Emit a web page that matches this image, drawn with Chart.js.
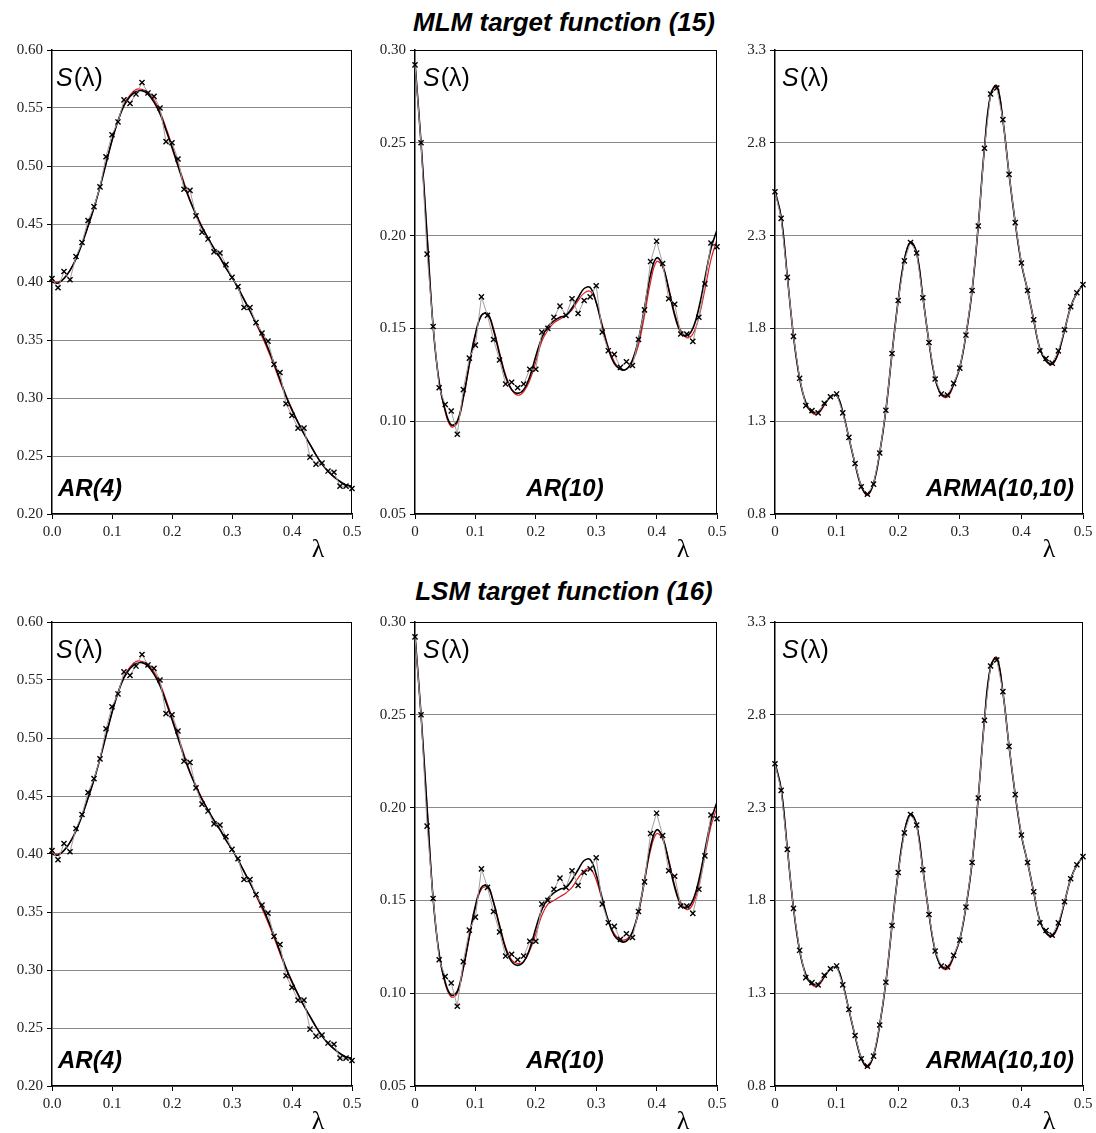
<!DOCTYPE html>
<html>
<head>
<meta charset="utf-8">
<script src="https://cdn.jsdelivr.net/npm/chart.js@4.4.1/dist/chart.umd.min.js"></script>
<style>
  html, body { margin: 0; padding: 0; background: #fff; }
  #page { position: relative; width: 1096px; height: 1133px; overflow: hidden; }
  .title { position: absolute; left: 16px; width: 1096px; text-align: center;
           font: italic bold 26px 'Liberation Sans', sans-serif; color: #000; line-height: 30px; }
  canvas { position: absolute; }
</style>
</head>
<body>
<div id="page">
  <div class="title" style="top:7px">MLM target function (15)</div>
  <div class="title" style="top:576px">LSM target function (16)</div>
</div>
<script>
// Frequency grid λ
const LAMBDA = [0,0.01,0.02,0.03,0.04,0.05,0.06,0.07,0.08,0.09,
  0.1,0.11,0.12,0.13,0.14,0.15,0.16,0.17,0.18,0.19,
  0.2,0.21,0.22,0.23,0.24,0.25,0.26,0.27,0.28,0.29,
  0.3,0.31,0.32,0.33,0.34,0.35,0.36,0.37,0.38,0.39,
  0.4,0.41,0.42,0.43,0.44,0.45,0.46,0.47,0.48,0.49,0.5];

// ---- AR(4) ----
const AR4_SAMPLE = [0.403,0.395,0.409,0.402,0.422,0.434,0.453,0.465,0.482,0.508,
  0.527,0.538,0.557,0.554,0.562,0.572,0.563,0.560,0.550,0.521,
  0.520,0.506,0.480,0.479,0.457,0.443,0.437,0.426,0.425,0.415,
  0.404,0.396,0.378,0.378,0.365,0.356,0.349,0.329,0.322,0.295,
  0.285,0.274,0.274,0.249,0.243,0.244,0.237,0.236,0.224,0.224,0.222];
const AR4_TRUE = [0.401,0.400,0.403,0.410,0.420,0.433,0.448,0.464,0.482,0.502,
  0.522,0.539,0.553,0.561,0.566,0.566,0.564,0.557,0.547,0.533,
  0.518,0.502,0.486,0.471,0.459,0.448,0.438,0.429,0.421,0.412,
  0.404,0.395,0.385,0.375,0.364,0.353,0.341,0.328,0.314,0.301,
  0.289,0.279,0.269,0.260,0.251,0.243,0.237,0.232,0.228,0.225,0.224];
const AR4_MLM = [0.400,0.399,0.403,0.410,0.420,0.433,0.448,0.464,0.482,0.502,
  0.522,0.539,0.552,0.560,0.564,0.565,0.562,0.555,0.545,0.531,
  0.516,0.500,0.484,0.470,0.458,0.447,0.438,0.429,0.421,0.412,
  0.404,0.395,0.385,0.375,0.365,0.355,0.343,0.330,0.316,0.302,
  0.290,0.279,0.269,0.260,0.251,0.243,0.237,0.232,0.228,0.225,0.224];
const AR4_LSM = [0.400,0.399,0.403,0.410,0.420,0.433,0.448,0.464,0.482,0.502,
  0.522,0.539,0.552,0.560,0.564,0.565,0.562,0.555,0.545,0.531,
  0.516,0.500,0.484,0.470,0.458,0.447,0.438,0.429,0.421,0.412,
  0.404,0.395,0.385,0.375,0.365,0.355,0.343,0.330,0.316,0.302,
  0.290,0.279,0.269,0.260,0.251,0.243,0.237,0.232,0.228,0.225,0.224];

// ---- AR(10) ----
const AR10_SAMPLE = [0.292,0.250,0.190,0.151,0.118,0.109,0.1055,0.093,0.117,0.134,
  0.141,0.167,0.157,0.144,0.133,0.120,0.121,0.118,0.120,0.128,
  0.128,0.148,0.150,0.156,0.162,0.157,0.166,0.158,0.165,0.167,
  0.173,0.148,0.138,0.136,0.129,0.132,0.130,0.144,0.160,0.186,
  0.197,0.185,0.166,0.163,0.147,0.147,0.143,0.156,0.174,0.196,0.194];
const AR10_TRUE = [0.293,0.250,0.200,0.151,0.121,0.105,0.097,0.099,0.112,0.130,
  0.146,0.157,0.158,0.150,0.137,0.125,0.117,0.114,0.116,0.122,
  0.132,0.143,0.149,0.153,0.155,0.157,0.160,0.165,0.169,0.170,
  0.164,0.152,0.140,0.132,0.128,0.128,0.132,0.141,0.157,0.175,
  0.186,0.183,0.172,0.158,0.149,0.145,0.147,0.156,0.171,0.187,0.198];
const AR10_MLM = [0.293,0.250,0.200,0.151,0.121,0.106,0.098,0.100,0.113,0.131,
  0.147,0.157,0.158,0.149,0.136,0.124,0.117,0.115,0.117,0.124,
  0.135,0.145,0.151,0.154,0.156,0.157,0.161,0.1665,0.1715,0.172,
  0.164,0.151,0.139,0.131,0.128,0.128,0.133,0.144,0.161,0.179,
  0.188,0.184,0.171,0.157,0.148,0.146,0.150,0.161,0.177,0.193,0.203];
const AR10_LSM_RED = [0.293,0.250,0.200,0.151,0.121,0.105,0.098,0.100,0.113,0.130,
  0.146,0.156,0.157,0.149,0.137,0.125,0.118,0.116,0.117,0.123,
  0.132,0.142,0.148,0.150,0.152,0.154,0.157,0.162,0.166,0.167,
  0.161,0.150,0.139,0.132,0.129,0.129,0.133,0.143,0.160,0.177,
  0.186,0.183,0.172,0.158,0.149,0.145,0.148,0.158,0.174,0.190,0.200];
const AR10_LSM = [0.293,0.250,0.200,0.151,0.121,0.106,0.099,0.101,0.114,0.131,
  0.147,0.157,0.158,0.149,0.136,0.124,0.117,0.115,0.117,0.124,
  0.135,0.145,0.151,0.154,0.156,0.157,0.161,0.1665,0.1715,0.172,
  0.164,0.151,0.139,0.131,0.128,0.128,0.133,0.144,0.161,0.179,
  0.188,0.184,0.171,0.157,0.148,0.146,0.150,0.161,0.177,0.193,0.203];

// ---- ARMA(10,10) ----
const ARMA_SAMPLE = [2.536,2.393,2.075,1.757,1.531,1.384,1.357,1.345,1.397,1.432,
  1.447,1.345,1.213,1.072,0.947,0.907,0.961,1.129,1.359,1.665,
  1.950,2.164,2.263,2.206,1.965,1.724,1.527,1.447,1.441,1.504,
  1.586,1.764,2.004,2.352,2.771,3.063,3.095,2.925,2.630,2.370,
  2.152,2.004,1.847,1.679,1.638,1.613,1.679,1.793,1.917,1.992,2.036];
const ARMA_TRUE = [2.54,2.40,2.08,1.76,1.53,1.40,1.345,1.34,1.385,1.43,
  1.44,1.35,1.21,1.07,0.95,0.90,0.965,1.13,1.36,1.665,
  1.95,2.17,2.265,2.205,1.97,1.725,1.53,1.44,1.43,1.495,
  1.59,1.765,2.005,2.355,2.77,3.06,3.11,2.92,2.63,2.37,
  2.15,2.005,1.845,1.69,1.625,1.605,1.665,1.79,1.915,1.99,2.035];
const ARMA_MLM = [2.54,2.40,2.08,1.76,1.53,1.40,1.35,1.35,1.39,1.43,
  1.44,1.35,1.21,1.07,0.95,0.905,0.965,1.13,1.36,1.665,
  1.95,2.17,2.265,2.205,1.97,1.725,1.53,1.445,1.44,1.50,
  1.59,1.765,2.005,2.355,2.77,3.06,3.105,2.92,2.63,2.37,
  2.15,2.005,1.845,1.69,1.625,1.61,1.67,1.79,1.915,1.99,2.035];
const ARMA_LSM = [2.54,2.40,2.08,1.76,1.53,1.40,1.35,1.35,1.39,1.43,
  1.44,1.35,1.21,1.07,0.95,0.905,0.965,1.13,1.36,1.665,
  1.95,2.17,2.265,2.205,1.97,1.725,1.53,1.445,1.44,1.50,
  1.59,1.765,2.005,2.355,2.77,3.06,3.105,2.92,2.63,2.37,
  2.15,2.005,1.845,1.69,1.625,1.61,1.67,1.79,1.915,1.99,2.035];

// Axis ticks and labels
const X_TICKS = [0, 0.1, 0.2, 0.3, 0.4, 0.5];
const X_LABELS_AR4 = ['0.0','0.1','0.2','0.3','0.4','0.5'];
const X_LABELS = ['0','0.1','0.2','0.3','0.4','0.5'];
const Y_TICKS_AR4 = [0.20,0.25,0.30,0.35,0.40,0.45,0.50,0.55,0.60];
const Y_LABELS_AR4 = ['0.20','0.25','0.30','0.35','0.40','0.45','0.50','0.55','0.60'];
const Y_TICKS_AR10 = [0.05,0.10,0.15,0.20,0.25,0.30];
const Y_LABELS_AR10 = ['0.05','0.10','0.15','0.20','0.25','0.30'];
const Y_TICKS_ARMA = [0.8,1.3,1.8,2.3,2.8,3.3];
const Y_LABELS_ARMA = ['0.8','1.3','1.8','2.3','2.8','3.3'];

const MODEL_NAMES = ['AR(4)', 'AR(10)', 'ARMA(10,10)'];

const pts = (ys) => LAMBDA.map((x, i) => ({ x: x, y: ys[i] }));

// panel placement (plot area, in page pixels)
const PANELS = [
  { L: 52,  T: 49,  W: 300, H: 465, yT: Y_TICKS_AR4,  yL: Y_LABELS_AR4,  xL: X_LABELS_AR4, s: AR4_SAMPLE,  red: AR4_TRUE,  black: AR4_MLM,  name: MODEL_NAMES[0], pos: 'left' },
  { L: 415, T: 49,  W: 302, H: 465, yT: Y_TICKS_AR10, yL: Y_LABELS_AR10, xL: X_LABELS,     s: AR10_SAMPLE, red: AR10_TRUE, black: AR10_MLM, name: MODEL_NAMES[1], pos: 'center' },
  { L: 775, T: 49,  W: 308, H: 465, yT: Y_TICKS_ARMA, yL: Y_LABELS_ARMA, xL: X_LABELS,     s: ARMA_SAMPLE, red: ARMA_TRUE, black: ARMA_MLM, name: MODEL_NAMES[2], pos: 'right' },
  { L: 52,  T: 621, W: 300, H: 465, yT: Y_TICKS_AR4,  yL: Y_LABELS_AR4,  xL: X_LABELS_AR4, s: AR4_SAMPLE,  red: AR4_TRUE,  black: AR4_LSM,  name: MODEL_NAMES[0], pos: 'left' },
  { L: 415, T: 621, W: 302, H: 465, yT: Y_TICKS_AR10, yL: Y_LABELS_AR10, xL: X_LABELS,     s: AR10_SAMPLE, red: AR10_LSM_RED, black: AR10_LSM, name: MODEL_NAMES[1], pos: 'center' },
  { L: 775, T: 621, W: 308, H: 465, yT: Y_TICKS_ARMA, yL: Y_LABELS_ARMA, xL: X_LABELS,     s: ARMA_SAMPLE, red: ARMA_TRUE, black: ARMA_LSM, name: MODEL_NAMES[2], pos: 'right' }
];

const Y_AXIS_W = 52, X_AXIS_H = 52, PAD_T = 12, PAD_R = 16;

const decor = {
  id: 'decor',
  afterDatasetsDraw(chart, args, o) {
    const ctx = chart.ctx, a = chart.chartArea;
    ctx.save();
    // frame: top and right edges
    ctx.strokeStyle = '#000';
    ctx.lineWidth = 1;
    ctx.beginPath();
    ctx.moveTo(a.left, Math.round(a.top) + 0.5);
    ctx.lineTo(a.right, Math.round(a.top) + 0.5);
    ctx.moveTo(Math.round(a.right) - 0.5, a.top);
    ctx.lineTo(Math.round(a.right) - 0.5, a.bottom);
    ctx.stroke();

    // S(λ)
    ctx.fillStyle = '#000';
    ctx.textBaseline = 'middle';
    ctx.textAlign = 'left';
    const sx = a.left + o.sdx, sy = a.top + 29;
    ctx.font = 'italic 25px "Liberation Sans", sans-serif';
    ctx.fillText('S', sx, sy);
    const w = ctx.measureText('S').width;
    ctx.font = '25px "Liberation Sans", sans-serif';
    ctx.fillText('(λ)', sx + w + 1, sy);

    // model name
    ctx.font = 'italic bold 24px "Liberation Sans", sans-serif';
    const my = a.bottom - 25;
    if (o.pos === 'left') { ctx.textAlign = 'left'; ctx.fillText(o.name, a.left + 6, my); }
    else if (o.pos === 'center') { ctx.textAlign = 'center'; ctx.fillText(o.name, a.left + 150, my); }
    else { ctx.textAlign = 'right'; ctx.fillText(o.name, a.right - 9, my); }

    // λ axis symbol
    ctx.font = '26px "Liberation Serif", serif';
    ctx.textAlign = 'center';
    ctx.fillText('λ', a.right - 34, a.bottom + 36);
    ctx.restore();
  }
};

const page = document.getElementById('page');
PANELS.forEach((p, k) => {
  const c = document.createElement('canvas');
  const cw = p.W + Y_AXIS_W + PAD_R, ch = p.H + PAD_T + X_AXIS_H;
  c.width = cw; c.height = ch;
  c.style.left = (p.L - Y_AXIS_W) + 'px';
  c.style.top = (p.T - PAD_T) + 'px';
  c.style.width = cw + 'px'; c.style.height = ch + 'px';
  page.appendChild(c);

  const yMin = p.yT[0], yMax = p.yT[p.yT.length - 1];
  new Chart(c, {
    type: 'line',
    data: {
      datasets: [
        { data: pts(p.s), borderColor: '#a0a0a0', borderWidth: 1, tension: 0,
          pointStyle: 'crossRot', pointRadius: 3.6, pointBorderColor: '#000',
          pointBorderWidth: 1.4, pointHoverRadius: 3.6, clip: false, order: 0 },
        { data: pts(p.black), borderColor: '#000', borderWidth: 1.6, tension: 0.4,
          pointRadius: 0, order: 1 },
        { data: pts(p.red), borderColor: '#e8191c', borderWidth: 1.2, tension: 0.4,
          pointRadius: 0, order: 2 }
      ]
    },
    options: {
      responsive: false, animation: false, devicePixelRatio: 1,
      layout: { padding: { top: PAD_T, right: PAD_R, left: 0, bottom: 0 } },
      plugins: { legend: { display: false }, tooltip: { enabled: false },
                 decor: { sdx: [4, 8, 7][k % 3], pos: p.pos, name: p.name } },
      scales: {
        x: {
          type: 'linear', min: 0, max: 0.5,
          afterBuildTicks: (s) => { s.ticks = X_TICKS.map(v => ({ value: v })); },
          afterFit: (s) => { s.height = X_AXIS_H; },
          ticks: { autoSkip: false, maxRotation: 0, padding: 4, color: '#222',
                   font: { family: 'Liberation Serif', size: 15 },
                   callback: (v, i) => p.xL[i] },
          grid: { drawOnChartArea: false, tickLength: 5, tickColor: '#000', tickWidth: 1 },
          border: { display: true, color: '#000', width: 1.5 }
        },
        y: {
          type: 'linear', min: yMin, max: yMax,
          afterBuildTicks: (s) => { s.ticks = p.yT.map(v => ({ value: v })); },
          afterFit: (s) => { s.width = Y_AXIS_W; },
          ticks: { autoSkip: false, padding: 4, color: '#222',
                   font: { family: 'Liberation Serif', size: 15 },
                   callback: (v, i) => p.yL[i] },
          grid: { color: '#8a8a8a', lineWidth: 1, tickLength: 5, tickColor: '#000', tickWidth: 1 },
          border: { display: true, color: '#000', width: 1.5 }
        }
      }
    },
    plugins: [decor]
  });
});
</script>
</body>
</html>
